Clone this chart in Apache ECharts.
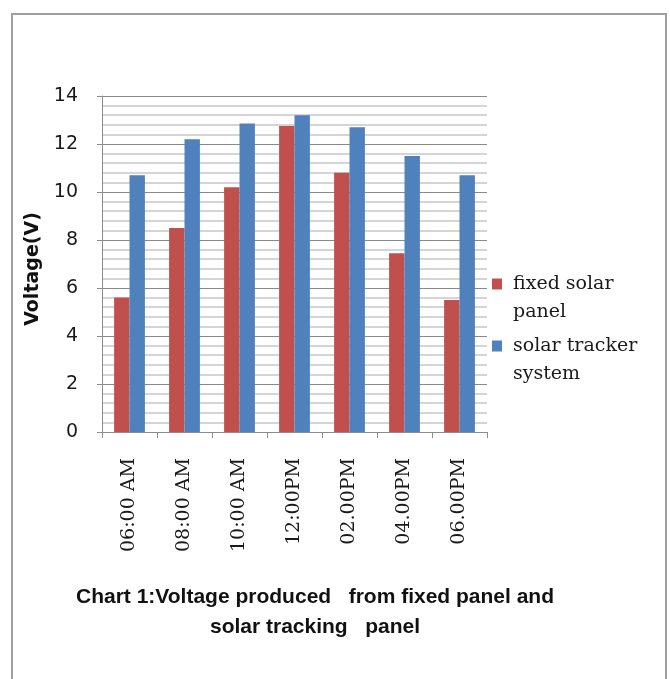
<!DOCTYPE html>
<html>
<head>
<meta charset="utf-8">
<script src="https://cdn.jsdelivr.net/npm/echarts@6/dist/echarts.min.js"></script>
<style>
  html, body { margin: 0; padding: 0; background: #ffffff; }
  #chart { width: 670px; height: 679px; }
</style>
</head>
<body>
<div id="chart"></div>
<script>
// Time of day for each measurement
const hours = ['06:00 AM', '08:00 AM', '10:00 AM', '12:00PM', '02.00PM', '04.00PM', '06.00PM'];
// Voltage (V) produced by each panel
const fixedPanel = [5.6, 8.5, 10.2, 12.75, 10.8, 7.45, 5.5];
const trackerSystem = [10.7, 12.2, 12.85, 13.2, 12.7, 11.5, 10.7];
// Value axis ticks
const yTicks = [0, 2, 4, 6, 8, 10, 12, 14];

const seriesNames = ['fixed solar panel', 'solar tracker system'];
// Leading blank line keeps the swatch beside the first line of each two-line entry
const legendLines = {
  'fixed solar panel': '\nfixed solar\npanel',
  'solar tracker system': '\nsolar tracker\nsystem'
};

const chart = echarts.init(document.getElementById('chart'), null, { renderer: 'canvas' });

const legendText = {
  fontFamily: 'DejaVu Serif',
  fontSize: 19,
  color: '#1a1a1a',
  lineHeight: 28,
  padding: [0, 0, 0, 6]
};

function legendFor(name, top) {
  return {
    data: [name],
    orient: 'vertical',
    left: 492,
    top: top,
    padding: 0,
    icon: 'rect',
    itemWidth: 10,
    itemHeight: 11,
    formatter: n => legendLines[n],
    textStyle: legendText
  };
}

chart.setOption({
  animation: false,
  backgroundColor: '#ffffff',
  graphic: [{
    type: 'rect',
    shape: { x: 12, y: 14, width: 654, height: 700 },
    style: { fill: 'none', stroke: '#a0a0a0', lineWidth: 2 },
    silent: true
  }],
  title: {
    text: 'Chart 1:Voltage produced   from fixed panel and\nsolar tracking   panel',
    left: 310,
    top: 577,
    textAlign: 'center',
    textStyle: {
      fontFamily: 'Liberation Sans',
      fontWeight: 'bold',
      fontSize: 21,
      lineHeight: 30,
      color: '#111111'
    }
  },
  legend: [legendFor(seriesNames[0], 242), legendFor(seriesNames[1], 304)],
  grid: { left: 102, right: 183, top: 96, bottom: 247, containLabel: false },
  xAxis: {
    type: 'category',
    data: hours,
    axisLine: { show: true, lineStyle: { color: '#8c8c8c', width: 1 } },
    axisTick: { show: true, length: 6, alignWithLabel: false, lineStyle: { color: '#8c8c8c' } },
    axisLabel: {
      rotate: 90,
      margin: 26,
      interval: 0,
      fontFamily: 'DejaVu Serif',
      fontSize: 19,
      color: '#1a1a1a'
    },
    splitLine: { show: false }
  },
  yAxis: {
    type: 'value',
    min: yTicks[0],
    max: yTicks[yTicks.length - 1],
    interval: 2,
    name: 'Voltage(V)',
    nameLocation: 'middle',
    nameGap: 58,
    nameRotate: 90,
    nameTextStyle: {
      fontFamily: 'DejaVu Sans',
      fontWeight: 'bold',
      fontSize: 19,
      color: '#111111',
      padding: [0, 10, 0, 0]
    },
    axisLine: { show: true, lineStyle: { color: '#8c8c8c', width: 1 } },
    axisTick: { show: true, inside: false, length: 5, lineStyle: { color: '#8c8c8c' } },
    axisLabel: {
      margin: 24,
      fontFamily: 'DejaVu Sans',
      fontSize: 19,
      color: '#1a1a1a',
      formatter: v => (yTicks.indexOf(v) >= 0 ? String(v) : '')
    },
    splitLine: { show: true, lineStyle: { color: '#8a8a8a', width: 1 } },
    minorTick: { show: false, splitNumber: 5 },
    minorSplitLine: { show: true, lineStyle: { color: '#c8c8c8', width: 1.5 } }
  },
  series: [{
    name: seriesNames[0],
    type: 'bar',
    data: fixedPanel,
    barGap: '0%',
    barCategoryGap: '44%',
    itemStyle: { color: '#C0504D' }
  }, {
    name: seriesNames[1],
    type: 'bar',
    data: trackerSystem,
    barGap: '0%',
    barCategoryGap: '44%',
    itemStyle: { color: '#4F81BD' }
  }]
});
</script>
</body>
</html>
